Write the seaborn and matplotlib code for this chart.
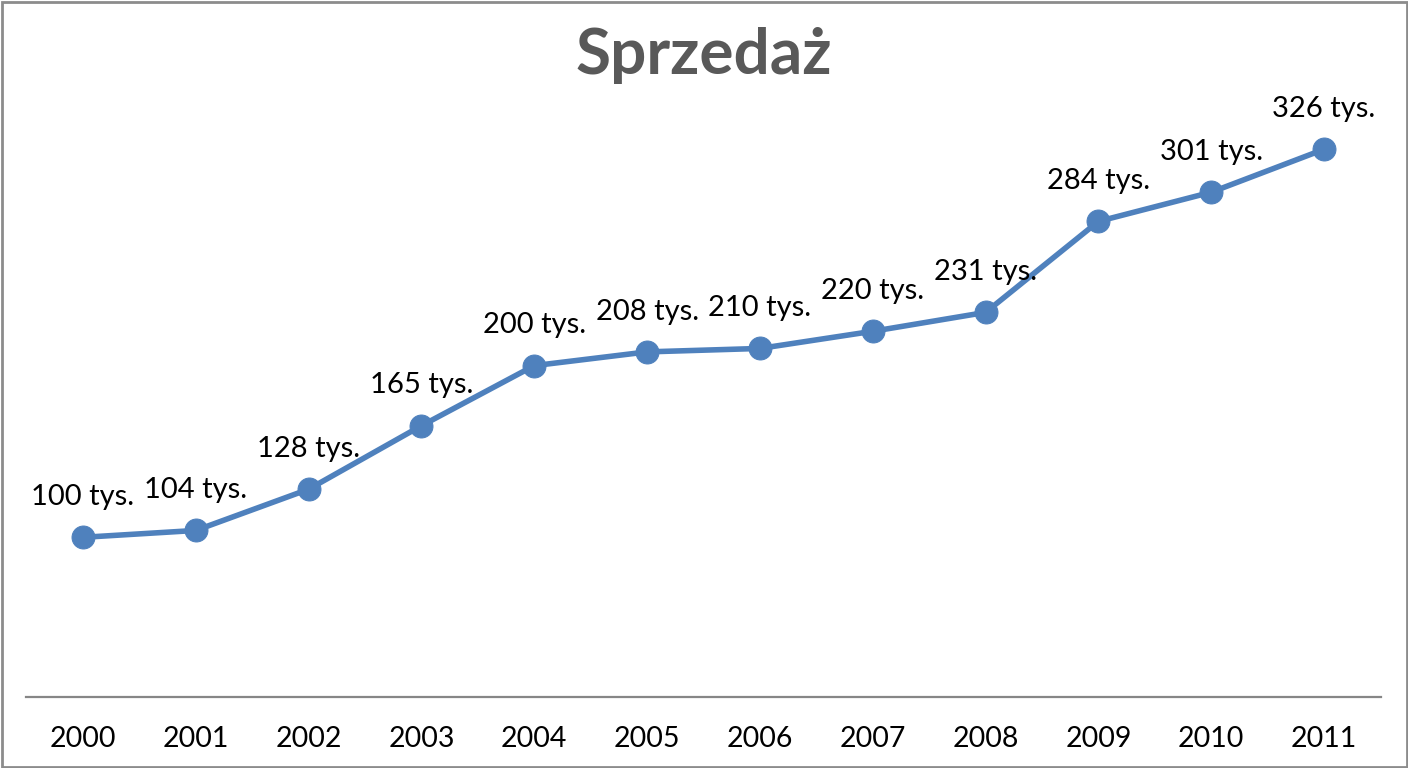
import matplotlib
matplotlib.use("Agg")
import matplotlib.pyplot as plt
import seaborn as sns
import pandas as pd
from matplotlib.patches import Rectangle

years = ["2000", "2001", "2002", "2003", "2004", "2005", "2006", "2007", "2008", "2009", "2010", "2011"]
sales = [100, 104, 128, 165, 200, 208, 210, 220, 231, 284, 301, 326]
labels = [f"{v} tys." for v in sales]

sns.set_theme(style="white")
plt.rcParams['font.family'] = ['Lato', 'DejaVu Sans']

W, H = 1408, 768
fig = plt.figure(figsize=(W / 100, H / 100), dpi=100)
left, right, bottom, top = 26.5, 1380.5, 697, 100
ax = fig.add_axes([left / W, 1 - bottom / H, (right - left) / W, (bottom - top) / H])

df = pd.DataFrame({"idx": range(len(years)), "sales": sales})
blue = "#4F81BD"
sns.lineplot(data=df, x="idx", y="sales", ax=ax, color=blue, linewidth=4,
             marker="o", markersize=16.5, markeredgecolor=blue, markerfacecolor=blue)

ymin = 7
ymax = ymin + (bottom - top) / 1.717
ax.set_ylim(ymin, ymax)
ax.set_xlim(-0.5, len(years) - 0.5)

for i, (v, t) in enumerate(zip(sales, labels)):
    ax.annotate(t, (i, v), xytext=(0, 29), textcoords="offset points",
                ha="center", va="center", fontsize=21, color="black")

ax.set_xticks(range(len(years)))
ax.set_xticklabels(years, fontsize=20.5, color="black")
ax.tick_params(axis="x", length=0, pad=21)
ax.set_yticks([])
ax.set_xlabel("")
ax.set_ylabel("")
for s in ["top", "right", "left"]:
    ax.spines[s].set_visible(False)
ax.spines["bottom"].set_color("#868686")
ax.spines["bottom"].set_linewidth(1.6)

fig.text(0.5, 1 - 55 / H, "Sprzedaż", ha="center", va="center",
         fontsize=46, fontweight="bold", color="#595959")

fig.patches.append(Rectangle((1.5 / W, 1.5 / H), 1 - 3 / W, 1 - 3 / H,
                             transform=fig.transFigure, fill=False,
                             edgecolor="#8c8c8c", linewidth=2))

fig.savefig("out.png", dpi=100)
